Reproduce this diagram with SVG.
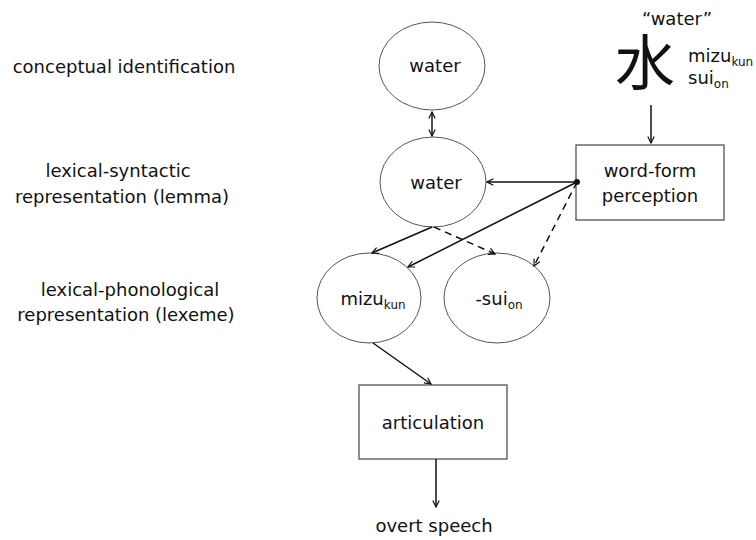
<svg xmlns="http://www.w3.org/2000/svg" width="756" height="540" viewBox="0 0 756 540">
<defs>
<style>
text{font-family:"DejaVu Sans","Noto Sans",sans-serif;font-size:18px;fill:#111}
.c{text-anchor:middle}
.sub{font-size:12px}
.n{fill:#fff;stroke:#555;stroke-width:1}
.b{fill:#fff;stroke:#444;stroke-width:1.2}
.e{fill:none;stroke:#111;stroke-width:1.5}
.d{stroke-dasharray:7,5}
</style>
<marker id="ah" viewBox="0 0 10 10" refX="9" refY="5" markerWidth="8" markerHeight="8" orient="auto-start-reverse" markerUnits="userSpaceOnUse">
<path d="M1,1 L9,5 L1,9" fill="none" stroke="#111" stroke-width="1.5"/>
</marker>
</defs>
<rect width="756" height="540" fill="#fff"/>
<g id="labels">
<text class="c" x="124" y="73">conceptual identification</text>
<text class="c" x="118" y="177">lexical-syntactic</text>
<text class="c" x="122" y="203">representation (lemma)</text>
<text class="c" x="130" y="296">lexical-phonological</text>
<text class="c" x="126" y="321">representation (lexeme)</text>
</g>
<g id="stimulus">
<text class="c" x="677" y="25">“water”</text>
<text class="c" x="645" y="85" style="font-family:'Noto Sans CJK JP','Noto Sans CJK SC',sans-serif;font-size:60px">水</text>
<text x="688" y="62">mizu<tspan class="sub" dy="4">kun</tspan></text>
<text x="688" y="84">sui<tspan class="sub" dy="4">on</tspan></text>
</g>
<g id="concept">
<ellipse class="n" cx="432" cy="66" rx="53" ry="44"/>
<text class="c" x="435" y="72">water</text>
</g>
<g id="lemma">
<ellipse class="n" cx="433" cy="182" rx="53" ry="45"/>
<text class="c" x="436" y="189">water</text>
</g>
<g id="mizu">
<ellipse class="n" cx="369" cy="298" rx="52" ry="45"/>
<text class="c" x="373" y="305">mizu<tspan class="sub" dy="4">kun</tspan></text>
</g>
<g id="sui">
<ellipse class="n" cx="497" cy="298" rx="53" ry="45"/>
<text class="c" x="499" y="305">-sui<tspan class="sub" dy="4">on</tspan></text>
</g>
<g id="wordform">
<rect class="b" x="576" y="145" width="148" height="75"/>
<text class="c" x="650" y="177">word-form</text>
<text class="c" x="650" y="202">perception</text>
</g>
<g id="articulation">
<rect class="b" x="359" y="385" width="148" height="74"/>
<text class="c" x="433" y="429">articulation</text>
</g>
<g id="output">
<text class="c" x="434" y="532">overt speech</text>
</g>
<g id="connectors">
<line class="e" x1="432" y1="112" x2="432" y2="136" marker-start="url(#ah)" marker-end="url(#ah)"/>
<line class="e" x1="651" y1="105" x2="651" y2="143" marker-end="url(#ah)"/>
<circle cx="577" cy="182" r="3" fill="#111"/>
<line class="e" x1="577" y1="182" x2="487" y2="182" marker-end="url(#ah)"/>
<line class="e" x1="577" y1="182" x2="408" y2="267" marker-end="url(#ah)"/>
<line class="e d" x1="577" y1="182" x2="534" y2="266" marker-end="url(#ah)"/>
<line class="e" x1="432" y1="227" x2="372" y2="253" marker-end="url(#ah)"/>
<line class="e d" x1="434" y1="227" x2="495" y2="254" marker-end="url(#ah)"/>
<line class="e" x1="373" y1="343" x2="431" y2="384" marker-end="url(#ah)"/>
<line class="e" x1="436" y1="459" x2="436" y2="507" marker-end="url(#ah)"/>
</g>
</svg>
